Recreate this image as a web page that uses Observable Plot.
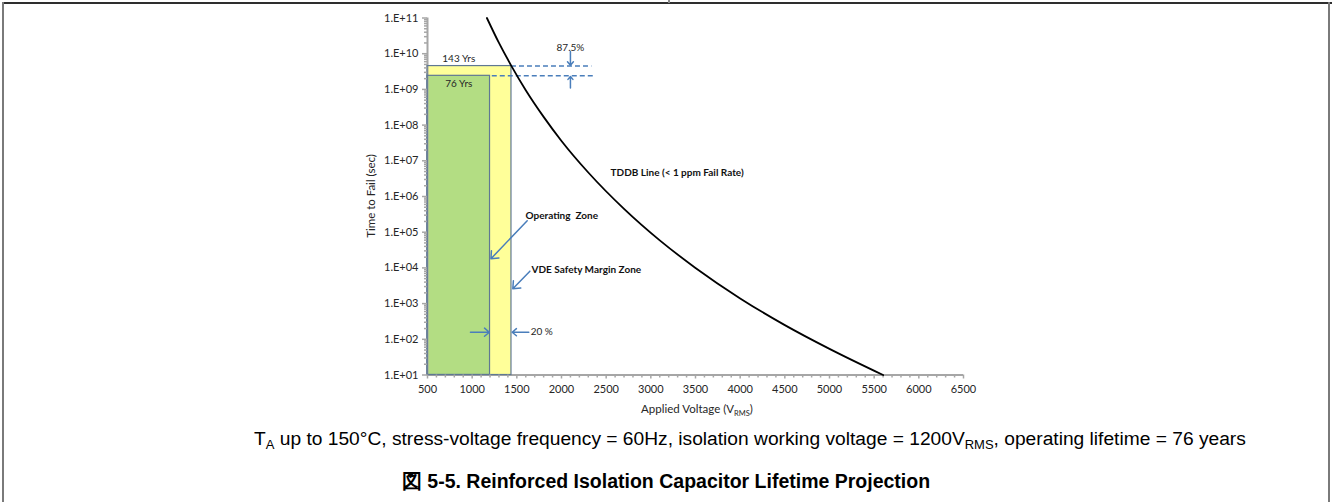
<!DOCTYPE html>
<html>
<head>
<meta charset="utf-8">
<script src="https://cdn.jsdelivr.net/npm/d3@7"></script>
<script src="https://cdn.jsdelivr.net/npm/@observablehq/plot@0.6"></script>
<style>
  html, body { margin: 0; padding: 0; background: #fff; }
  #page { position: relative; width: 1332px; height: 502px; overflow: hidden; background: #fff; }
  #chart { position: absolute; left: 0; top: 0; }
  .frame-top { position: absolute; left: 2px; top: 2px; width: 1330px; height: 2px; background: #2e2e2e; }
  .frame-left { position: absolute; left: 2px; top: 2px; width: 2px; height: 500px; background: #7a7a7a; }
  .frame-right { position: absolute; left: 1328px; top: 2px; width: 2px; height: 500px; background: #7a7a7a; }
  .frame-tick { position: absolute; left: 668px; top: 0px; width: 2px; height: 3px; background: #8a8a8a; }
  #caption { position: absolute; left: 254px; top: 427px; line-height: 24px;
             font-family: "Liberation Sans", Arial, sans-serif; font-size: 19.2px; color: #000; white-space: nowrap; }
  #caption sub { font-size: 13px; vertical-align: -4px; line-height: 0; }
  #title { position: absolute; left: 0; width: 1332px; top: 469px; line-height: 24px; text-align: center;
           font-family: "Liberation Sans", Arial, sans-serif; font-size: 19.5px; font-weight: bold; color: #000; white-space: nowrap; }
</style>
</head>
<body>
<div id="page">
  <div id="chart"></div>
  <div class="frame-top"></div>
  <div class="frame-left"></div>
  <div class="frame-right"></div>
  <div class="frame-tick"></div>
  <div id="caption">T<sub>A</sub> up to 150°C, stress-voltage frequency = 60Hz, isolation working voltage = 1200V<sub>RMS</sub>, operating lifetime = 76 years</div>
  <div id="title">図 5-5. Reinforced Isolation Capacitor Lifetime Projection</div>
</div>
<script>
// ---------- data ----------
const tddbVolts   = [1165, 1300, 1440, 1600, 1800, 2000, 2300, 2700, 3100, 3500, 4000, 4500, 5000, 5600];
const tddbSeconds = [1e11, 2.0e10, 4.5e9, 9.5e8, 1.7e8, 3.6e7, 4.7e6, 4.5e5, 5.9e4, 1.0e4, 1.4e3, 250, 54, 10];

const zoneNames     = ["VDE Safety Margin Zone", "Operating Zone"];
const zoneVoltStart = [500, 500];
const zoneVoltEnd   = [1440, 1200];
const zoneSeconds   = [4.5e9, 2.4e9];
const zoneYears     = ["143 Yrs", "76 Yrs"];

const xMajorTicks = [500, 1000, 1500, 2000, 2500, 3000, 3500, 4000, 4500, 5000, 5500, 6000, 6500];
const yMajorExponents = [1, 2, 3, 4, 5, 6, 7, 8, 9, 10, 11];

const marginPct   = ["87.5%", "20 %"];
const marginLineStarts = [1440, 1225];        // left ends of the dashed lifetime lines (V)
const marginLineEnds = [2340, 2380];          // right ends (V)
const marginArrowVolt = 2100;
const pctArrowSeconds = 158;

const noteTexts = ["Operating  Zone", "VDE Safety Margin Zone", "TDDB Line (< 1 ppm Fail Rate)"];
const noteVolts = [1597, 1665, 2549];
const noteSeconds = [2.8e5, 9.0e3, 4.6e6];

// ---------- derived tables ----------
const tddb = tddbVolts.map((v, i) => ({v, t: tddbSeconds[i]}));
const zones = zoneNames.map((name, i) => ({name, v0: zoneVoltStart[i], v1: zoneVoltEnd[i], t: zoneSeconds[i], yrs: zoneYears[i]}));
const yMajor = yMajorExponents.map(e => Math.pow(10, e));
const yMinor = [];
for (const e of yMajorExponents.slice(0, -1)) for (let k = 2; k <= 9; k++) yMinor.push(k * Math.pow(10, e));
const xMinor = d3.range(500, 6501, 100).filter(v => v % 500 !== 0);

const dashLines = zones.map((z, i) => ({t: z.t, a: marginLineStarts[i], b: marginLineEnds[i]}));
const arrows = [
  {x1: marginArrowVolt, y1: 1.15e10, x2: marginArrowVolt, y2: zoneSeconds[0] * 1.05},
  {x1: marginArrowVolt, y1: 1.1e9,  x2: marginArrowVolt, y2: zoneSeconds[1] * 0.96},
  {x1: 1616, y1: 2.1e5, x2: 1210, y2: 1.8e4},
  {x1: 1646, y1: 8.1e3, x2: 1455, y2: 2.6e3},
  {x1: 981,  y1: pctArrowSeconds, x2: zoneVoltEnd[1] - 8, y2: pctArrowSeconds},
  {x1: 1634, y1: pctArrowSeconds, x2: zoneVoltEnd[0] + 8, y2: pctArrowSeconds}
];
const notes = noteTexts.map((text, i) => ({text, v: noteVolts[i], t: noteSeconds[i]}));

// ---------- styles ----------
const zoneFill = {"VDE Safety Margin Zone": "#ffff99", "Operating Zone": "#b3dd83"};
const axisGrey = "#a6a6a6";
const blue = "#4a7ebb";
const font = "Lato, 'Open Sans', sans-serif";
const expFmt = d => "1.E+" + String(Math.round(Math.log10(d))).padStart(2, "0");

const chart = Plot.plot({
  width: 1332,
  height: 420,
  marginLeft: 427,
  marginRight: 369,
  marginTop: 17.5,
  marginBottom: 45.5,
  style: {fontFamily: font, fontSize: "11px", color: "#262626", background: "transparent", overflow: "visible"},
  x: {domain: [500, 6500], label: null, axis: null},
  y: {type: "log", domain: [1e1, 1e11], label: null, axis: null},
  marks: [
    Plot.rect(zones, {x1: "v0", x2: "v1", y1: 10, y2: "t", fill: d => zoneFill[d.name]}),
    Plot.ruleY([10], {stroke: axisGrey, strokeWidth: 2}),
    Plot.ruleX([500], {stroke: axisGrey, strokeWidth: 2}),
    Plot.rect(zones, {x1: "v0", x2: "v1", y1: 10, y2: "t", fill: "none", stroke: "#5f7893", strokeWidth: 1.2}),
    Plot.axisX(xMinor, {tickSize: 3, stroke: axisGrey, strokeWidth: 1.5, tickFormat: () => "", label: null}),
    Plot.axisX(xMajorTicks, {tickSize: 4, stroke: axisGrey, strokeWidth: 1.5, tickPadding: 6, tickFormat: d => String(d), label: null, fill: "#262626", fontSize: 11}),
    Plot.axisY(yMinor, {tickSize: 3, stroke: axisGrey, strokeWidth: 1.5, tickFormat: () => "", label: null}),
    Plot.axisY(yMajor, {tickSize: 5, stroke: axisGrey, strokeWidth: 1.5, tickPadding: 4, tickFormat: expFmt, label: null, fill: "#262626", fontSize: 11}),
    Plot.ruleY(dashLines, {y: "t", x1: "a", x2: "b", stroke: blue, strokeWidth: 1.5, strokeDasharray: "5,3"}),
    Plot.line(tddb, {x: "v", y: "t", curve: "monotone-x", stroke: "#000", strokeWidth: 1.8}),
    Plot.arrow(arrows, {x1: "x1", y1: "y1", x2: "x2", y2: "y2", stroke: blue, strokeWidth: 1.5, headLength: 8, headAngle: 80}),
    Plot.text([zones[0]], {x: d => (zones[1].v0 + zones[1].v1) / 2, y: "t", text: "yrs", dy: -7, fontSize: 10, fill: "#262626"}),
    Plot.text([zones[1]], {x: d => (d.v0 + d.v1) / 2, y: "t", text: "yrs", dy: 8, fontSize: 10, fill: "#262626"}),
    Plot.text([marginPct[0]], {x: marginArrowVolt, y: 1.45e10, text: d => d, fontSize: 10, fill: "#262626"}),
    Plot.text([marginPct[1]], {x: 1655, y: pctArrowSeconds, text: d => d, textAnchor: "start", fontSize: 10, fill: "#262626"}),
    Plot.text(notes, {x: "v", y: "t", text: "text", textAnchor: "start", fontWeight: "bold", fontSize: 10, fill: "#111"})
  ]
});

const svg = d3.select(chart);
// x-axis title with subscript
const xt = svg.append("text")
  .attr("x", 697).attr("y", 413)
  .attr("text-anchor", "middle")
  .attr("font-family", font).attr("font-size", 11.5).attr("fill", "#262626");
xt.append("tspan").text("Applied Voltage (V");
xt.append("tspan").attr("font-size", 7.5).attr("dy", 2.5).text("RMS");
xt.append("tspan").attr("dy", -2.5).text(")");
// y-axis title
svg.append("text")
  .attr("transform", "translate(375,196) rotate(-90)")
  .attr("text-anchor", "middle")
  .attr("font-family", font).attr("font-size", 11.5).attr("fill", "#262626")
  .text("Time to Fail (sec)");

document.getElementById("chart").appendChild(chart);
</script>
</body>
</html>
